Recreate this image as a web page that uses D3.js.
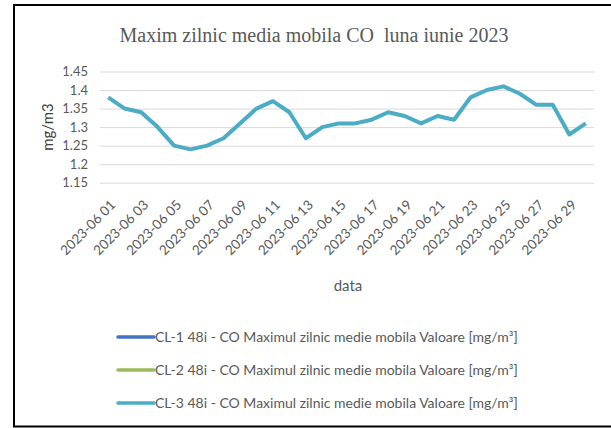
<!DOCTYPE html>
<html>
<head>
<meta charset="utf-8">
<script src="https://cdn.jsdelivr.net/npm/d3@7"></script>
<style>
  body { margin: 0; background: #fff; }
</style>
</head>
<body>
<div class="co-chart"></div>
<script>
// June 2023 days
const days = ["2023-06 01","2023-06 02","2023-06 03","2023-06 04","2023-06 05","2023-06 06","2023-06 07","2023-06 08","2023-06 09","2023-06 10",
  "2023-06 11","2023-06 12","2023-06 13","2023-06 14","2023-06 15","2023-06 16","2023-06 17","2023-06 18","2023-06 19","2023-06 20",
  "2023-06 21","2023-06 22","2023-06 23","2023-06 24","2023-06 25","2023-06 26","2023-06 27","2023-06 28","2023-06 29","2023-06 30"];
const cl1 = [];
const cl2 = [];
const cl3 = [1.38,1.35,1.34,1.30,1.25,1.24,1.25,1.27,1.31,1.35,
  1.37,1.34,1.27,1.30,1.31,1.31,1.32,1.34,1.33,1.31,
  1.33,1.32,1.38,1.40,1.41,1.39,1.36,1.36,1.28,1.31];
const yTicks = [1.15,1.2,1.25,1.3,1.35,1.4,1.45];
const seriesNames = ["CL-1 48i - CO Maximul zilnic medie mobila Valoare [mg/m³]",
  "CL-2 48i - CO Maximul zilnic medie mobila Valoare [mg/m³]",
  "CL-3 48i - CO Maximul zilnic medie mobila Valoare [mg/m³]"];
const seriesColors = ["#4472C4","#9BBB59","#4BACC6"];

const W = 611, H = 428;
const margin = {top: 71.5, left: 100, right: 17, bottom: 245};
const width = W - margin.left - margin.right,
      height = 182.7 - 71.5;

const svg = d3.select(".co-chart")
  .append("svg")
  .attr("width", W)
  .attr("height", H)
  .style("display", "block");

// frame
svg.append("rect")
  .attr("x", 14).attr("y", 5)
  .attr("width", 620).attr("height", 421.5)
  .attr("fill", "none")
  .attr("stroke", "#000")
  .attr("stroke-width", 2);

svg.append("text")
  .attr("x", 314).attr("y", 42)
  .attr("text-anchor", "middle")
  .style("font-family", "'Liberation Serif', serif")
  .style("font-size", "20px")
  .attr("fill", "#595959")
  .style("white-space", "pre")
  .text("Maxim zilnic media mobila CO  luna iunie 2023");

const g = svg.append("g")
  .attr("transform", "translate(" + margin.left + "," + margin.top + ")");

const xScale = d3.scaleBand()
  .domain(days)
  .range([0, width]);

const yScale = d3.scaleLinear()
  .domain([1.15, 1.45])
  .range([height, 0]);

// gridlines + y labels
const yAxis = g.append("g")
  .call(d3.axisLeft(yScale).tickValues(yTicks).tickSize(-width).tickFormat(d3.format("")));
yAxis.select(".domain").remove();
yAxis.selectAll(".tick line").attr("stroke", "#d9d9d9").attr("stroke-width", 1);
yAxis.selectAll(".tick text")
  .attr("x", -12)
  .attr("fill", "#595959")
  .style("font-family", "Lato, 'Open Sans', sans-serif")
  .style("font-size", "13px");

// x axis labels, every other day
const xAxis = g.append("g")
  .attr("transform", "translate(0," + height + ")")
  .call(d3.axisBottom(xScale).tickValues(days.filter((d, i) => i % 2 === 0)).tickSize(0));
xAxis.select(".domain").remove();
xAxis.selectAll(".tick text")
  .attr("fill", "#595959")
  .style("font-family", "Lato, 'Open Sans', sans-serif")
  .style("font-size", "13.5px")
  .attr("text-anchor", "end")
  .attr("dy", 0)
  .attr("transform", "translate(6,21) rotate(-45)");

const line = d3.line()
  .x((d, i) => xScale(days[i]) + xScale.bandwidth() / 2)
  .y(d => yScale(d));

[cl1, cl2, cl3].forEach((s, k) => {
  if (!s.length) return;
  g.append("path")
    .datum(s)
    .attr("fill", "none")
    .attr("stroke", seriesColors[k])
    .attr("stroke-width", 4)
    .attr("stroke-linejoin", "round")
    .attr("d", line);
});

// axis titles
svg.append("text")
  .attr("transform", "translate(53,127) rotate(-90)")
  .attr("text-anchor", "middle")
  .attr("fill", "#404040")
  .style("font-family", "Lato, 'Open Sans', sans-serif")
  .style("font-size", "15px")
  .text("mg/m3");

svg.append("text")
  .attr("x", 348).attr("y", 291)
  .attr("text-anchor", "middle")
  .attr("fill", "#595959")
  .style("font-family", "Lato, 'Open Sans', sans-serif")
  .style("font-size", "15px")
  .text("data");

// legend
const legend = svg.append("g")
  .selectAll("g")
  .data(seriesNames)
  .enter()
  .append("g")
  .attr("transform", (d, i) => "translate(118," + (337 + i * 33) + ")");
legend.append("line")
  .attr("x1", 0).attr("x2", 36)
  .attr("stroke", (d, i) => seriesColors[i])
  .attr("stroke-width", 3.5)
  .attr("stroke-linecap", "round");
legend.append("text")
  .attr("x", 37).attr("y", 5)
  .attr("fill", "#595959")
  .style("font-family", "Lato, 'Open Sans', sans-serif")
  .style("font-size", "14px")
  .text(d => d);
</script>
</body>
</html>
